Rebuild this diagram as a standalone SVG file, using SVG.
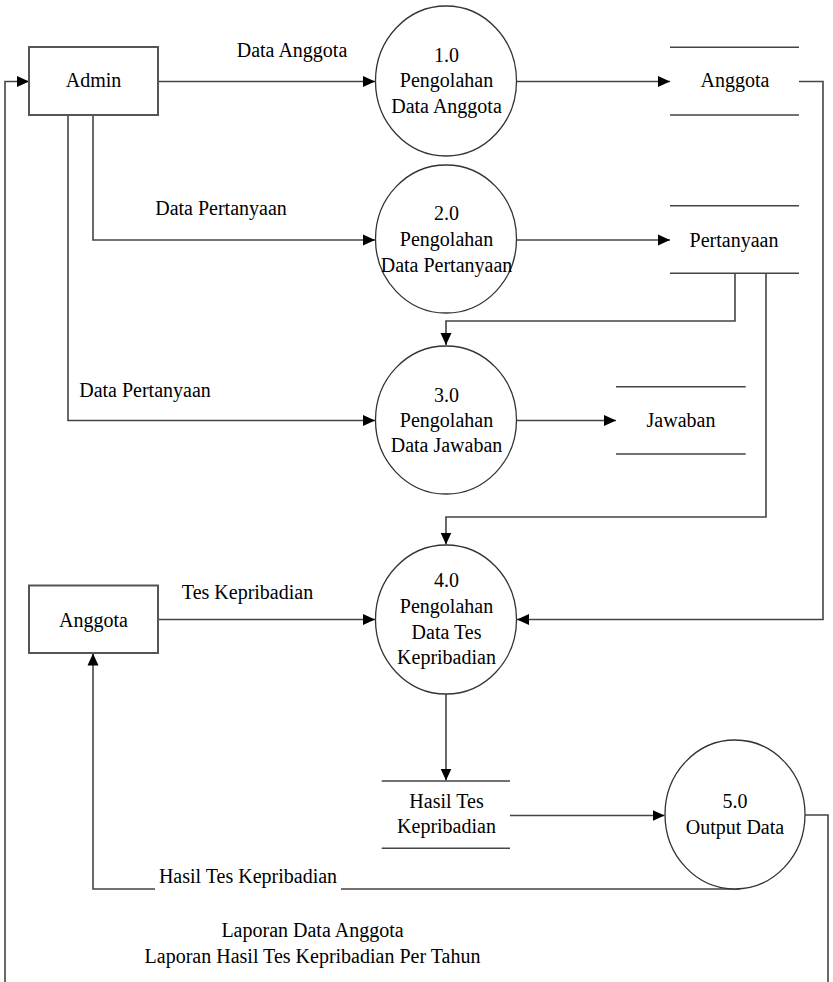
<svg xmlns="http://www.w3.org/2000/svg" width="833" height="982" viewBox="0 0 833 982">
  <style>
    text { font-family: "Liberation Serif", "DejaVu Serif", serif; font-size: 20px; fill: #000; text-anchor: middle; }
    .entity { fill: #fff; stroke: #555; stroke-width: 2; }
    .process { fill: #fff; stroke: #333; stroke-width: 1.3; }
    .store { stroke: #444; stroke-width: 1.6; fill: none; }
    .flow { fill: none; stroke: #444; stroke-width: 1.6; }
    .arrow { marker-end: url(#head); }
  </style>
  <defs>
    <marker id="head" markerUnits="userSpaceOnUse" markerWidth="13" markerHeight="12" refX="12" refY="6" orient="auto">
      <path d="M0,0.5 L12,6 L0,11.5 z" fill="#000"/>
    </marker>
  </defs>

  <rect width="833" height="982" fill="#fff"/>

  <!-- data flows -->
  <g id="connectors" font-family="Liberation Serif, DejaVu Serif, serif">
    <path class="flow arrow" d="M158,81.5 H375"/>
    <path class="flow arrow" d="M93,115 V240 H375"/>
    <path class="flow arrow" d="M68,115 V420.5 H375"/>
    <path class="flow arrow" d="M517,81.5 H670"/>
    <path class="flow arrow" d="M517,240 H670"/>
    <path class="flow arrow" d="M735,273 V321 H446 V345"/>
    <path class="flow arrow" d="M766,273 V517 H446 V544.5"/>
    <path class="flow arrow" d="M517,420.5 H616"/>
    <path class="flow arrow" d="M799,81.5 H823 V619.5 H517"/>
    <path class="flow arrow" d="M158,619.5 H375"/>
    <path class="flow arrow" d="M446,694 V780.5"/>
    <path class="flow arrow" d="M510,815.5 H664.5"/>
    <path class="flow arrow" d="M740,889 H93 V653.5"/>
    <path class="flow arrow" d="M805,815 H828 V995 H5 V81.5 H29"/>

    <text x="292" y="57">Data Anggota</text>
    <text x="221" y="215">Data Pertanyaan</text>
    <text x="145" y="396.5">Data Pertanyaan</text>
    <text x="247.5" y="599">Tes Kepribadian</text>
    <rect x="155" y="866" width="186" height="24" fill="#fff"/>
    <text x="248" y="883">Hasil Tes Kepribadian</text>
    <text x="312.5" y="937">Laporan Data Anggota</text>
    <text x="312.5" y="963">Laporan Hasil Tes Kepribadian Per Tahun</text>
  </g>

  <!-- external entities -->
  <g id="admin">
    <rect class="entity" x="29" y="47" width="129" height="68"/>
    <text x="93.5" y="87">Admin</text>
  </g>
  <g id="anggota-entity">
    <rect class="entity" x="29" y="585.5" width="129" height="67.5"/>
    <text x="93.5" y="626.5">Anggota</text>
  </g>

  <!-- processes -->
  <g id="p1">
    <ellipse class="process" cx="446" cy="81" rx="70.5" ry="75"/>
    <text x="446.5" y="62">1.0</text>
    <text x="446.5" y="87">Pengolahan</text>
    <text x="446.5" y="112.5">Data Anggota</text>
  </g>
  <g id="p2">
    <ellipse class="process" cx="446" cy="239" rx="70.5" ry="74"/>
    <text x="446.5" y="220">2.0</text>
    <text x="446.5" y="246">Pengolahan</text>
    <text x="446.5" y="271.5">Data Pertanyaan</text>
  </g>
  <g id="p3">
    <ellipse class="process" cx="446" cy="420" rx="70.5" ry="74"/>
    <text x="446.5" y="401.5">3.0</text>
    <text x="446.5" y="426.5">Pengolahan</text>
    <text x="446.5" y="452">Data Jawaban</text>
  </g>
  <g id="p4">
    <ellipse class="process" cx="446" cy="619.5" rx="70.5" ry="74.5"/>
    <text x="446.5" y="586.5">4.0</text>
    <text x="446.5" y="612.5">Pengolahan</text>
    <text x="446.5" y="638.5">Data Tes</text>
    <text x="446.5" y="664">Kepribadian</text>
  </g>
  <g id="p5">
    <ellipse class="process" cx="735" cy="814.5" rx="70" ry="74.5"/>
    <text x="735" y="808">5.0</text>
    <text x="735" y="834">Output Data</text>
  </g>

  <!-- data stores -->
  <g id="store-anggota">
    <path class="store" d="M670,47.3 H799 M670,115 H799"/>
    <text x="735" y="87.3">Anggota</text>
  </g>
  <g id="store-pertanyaan">
    <path class="store" d="M670,205.7 H799 M670,273.3 H799"/>
    <text x="734" y="246.5">Pertanyaan</text>
  </g>
  <g id="store-jawaban">
    <path class="store" d="M616,386.7 H745.7 M616,454 H745.7"/>
    <text x="681" y="426.5">Jawaban</text>
  </g>
  <g id="store-hasil">
    <path class="store" d="M381.7,781 H510 M381.7,848.3 H510"/>
    <text x="446.5" y="808">Hasil Tes</text>
    <text x="446.5" y="833">Kepribadian</text>
  </g>
</svg>
